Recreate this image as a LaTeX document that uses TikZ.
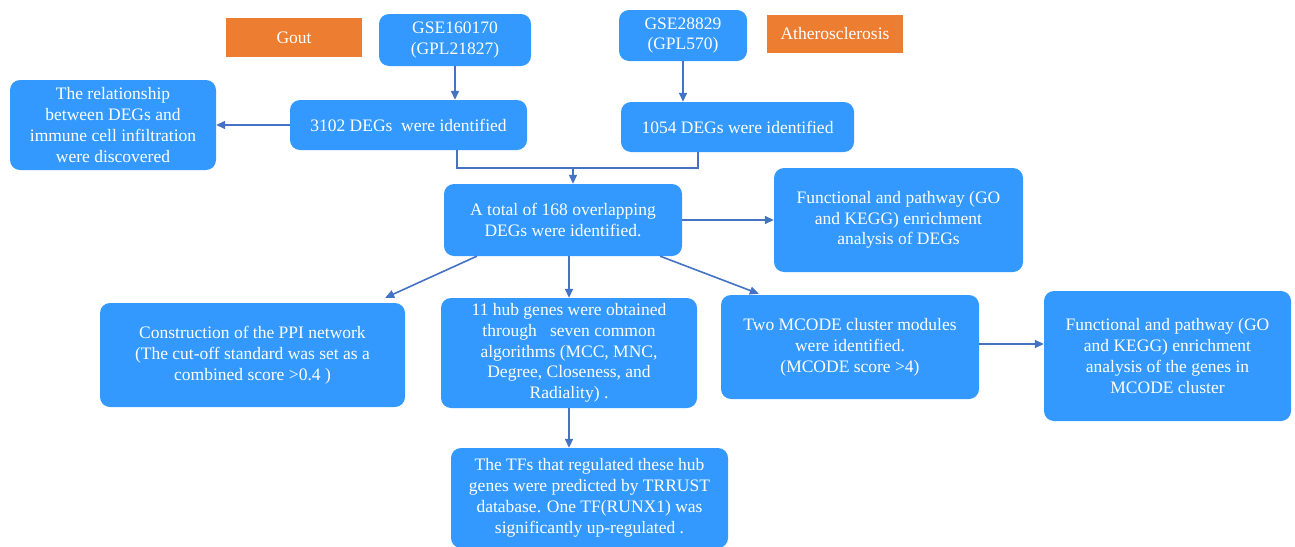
\documentclass[tikz,border=0pt]{standalone}
\usepackage{fontspec}
\setmainfont{Liberation Serif}
\usepackage{tikz}
\usetikzlibrary{arrows.meta}

\definecolor{boxblue}{RGB}{51,153,255}
\definecolor{tagorange}{RGB}{237,125,49}
\definecolor{linkblue}{RGB}{68,114,196}

\tikzset{
  stagebox/.style={fill=boxblue, text=white, rounded corners=10, align=center, inner sep=0},
  tagbox/.style={fill=tagorange, text=white, align=center, inner sep=0},
  link/.style={draw=linkblue, line width=1.6, -{Triangle[length=9,width=8]}},
}

\begin{document}
\begin{tikzpicture}[x=1pt, y=-1pt, font=\rmfamily\fontsize{17.5}{20.8}\selectfont]
\useasboundingbox (0,0) rectangle (1295,546);
%\draw[help lines, step=50] (0,0) grid (1295,546);
\node (gout) [tagbox, minimum width=136, minimum height=39] at (294,37.5) {Gout};
\node (athero) [tagbox, minimum width=136, minimum height=38] at (835,34) {Atherosclerosis};
\node (gse1) [stagebox, minimum width=152, minimum height=52] at (455,40) {GSE160170\\(GPL21827)};
\node (gse2) [stagebox, minimum width=128, minimum height=51] at (683,35.5) {GSE28829\\(GPL570)};
\node (relat) [stagebox, minimum width=206, minimum height=90] at (113,125) {The relationship\\between DEGs and\\immune cell infiltration\\were discovered};
\node (deg1) [stagebox, minimum width=237, minimum height=50] at (408.5,125) {3102 DEGs~~were identified};
\node (deg2) [stagebox, minimum width=233, minimum height=50] at (737.5,127) {1054 DEGs were identified};
\node (total) [stagebox, minimum width=238, minimum height=72] at (563,220) {A total of 168 overlapping\\DEGs were identified.};
\node (func1) [stagebox, minimum width=249, minimum height=104] at (898.5,220) {Functional and pathway (GO\\and KEGG) enrichment\\analysis of DEGs};
\node (ppi) [stagebox, minimum width=305, minimum height=104] at (252.5,355) {Construction of the PPI network\\(The cut-off standard was set as a\\combined score >0.4 )};
\node (hub) [stagebox, minimum width=256, minimum height=110] at (569,353) {11 hub genes were obtained\\through~~~seven common\\algorithms (MCC, MNC,\\Degree, Closeness, and\\Radiality) .};
\node (mcode) [stagebox, minimum width=258, minimum height=104] at (850,347) {Two MCODE cluster modules\\were identified.\\(MCODE score >4)};
\node (func2) [stagebox, minimum width=247, minimum height=130] at (1167.5,356) {Functional and pathway (GO\\and KEGG) enrichment\\analysis of the genes in\\MCODE cluster};
\node (tfs) [stagebox, minimum width=277, minimum height=100] at (589.5,498) {The TFs that regulated these hub\\genes were predicted by TRRUST\\database. One TF(RUNX1) was\\significantly up-regulated .};
\coordinate (join) at (573,168);

\path
(gse1.south) edge [link] (gse1.south |- deg1.north)
(gse2.south) edge [link] (gse2.south |- deg2.north)
(deg1.west) edge [link] (relat.east)
(join) edge [link] (join |- total.north)
(total.east) edge [link] (func1.west)
([xshift=33]total.south west) edge [link] ([xshift=-20,yshift=5]ppi.north east)
(hub.north |- total.south) edge [link] (hub.north)
([xshift=-22]total.south east) edge [link] ([xshift=38,yshift=1]mcode.north west)
([yshift=3]mcode.east) edge [link] ([yshift=3]mcode.east -| func2.west)
(hub.south) edge [link] (hub.south |- tfs.north);
\draw [linkblue, line width=1.6] ([xshift=48.5]deg1.south) |- (join) -| ([xshift=-39.5]deg2.south);
\end{tikzpicture}
\end{document}
